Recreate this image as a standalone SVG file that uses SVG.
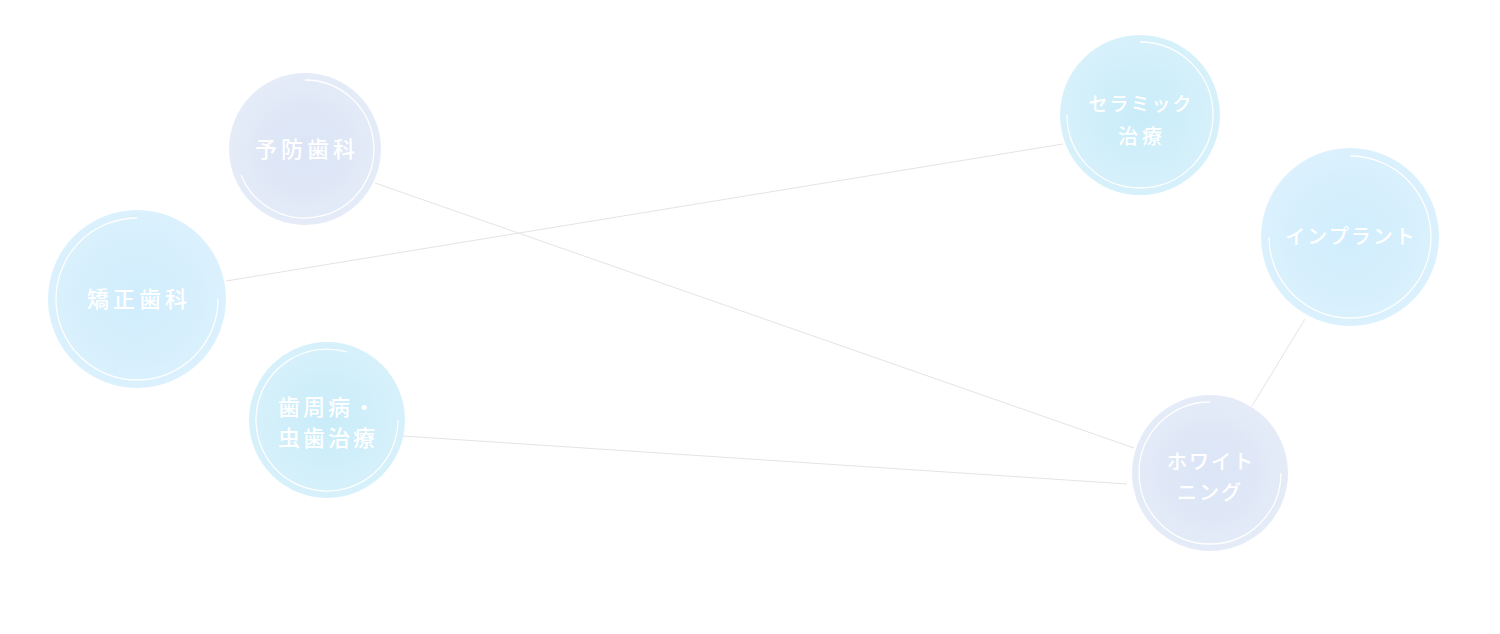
<svg xmlns="http://www.w3.org/2000/svg" width="1500" height="634" viewBox="0 0 1500 634">
<defs>
<radialGradient id="gLav" cx="50%" cy="50%" r="50%">
<stop offset="0%" stop-color="#dbe5f6"/>
<stop offset="60%" stop-color="#e0e8f7"/>
<stop offset="100%" stop-color="#e5ecf8"/>
</radialGradient>
<radialGradient id="gCyan" cx="50%" cy="50%" r="50%">
<stop offset="0%" stop-color="#c9ecf9"/>
<stop offset="60%" stop-color="#d1effa"/>
<stop offset="100%" stop-color="#d7f1fb"/>
</radialGradient>
<radialGradient id="gSky" cx="50%" cy="50%" r="50%">
<stop offset="0%" stop-color="#d1edfd"/>
<stop offset="60%" stop-color="#d6effd"/>
<stop offset="100%" stop-color="#dbf1fd"/>
</radialGradient>
<style>
.link{stroke:#e4e4e4;stroke-width:1;fill:none}
.ring{fill:none;stroke:#ffffff;stroke-width:1.3;stroke-opacity:0.95}
.lbl{font-family:"Noto Sans CJK JP","Noto Sans",sans-serif;fill:#ffffff;font-weight:500;text-anchor:middle;dominant-baseline:central}
</style>
</defs>
<rect width="1500" height="634" fill="#ffffff"/>
<g id="connectors">
<line class="link" x1="375" y1="183" x2="1134" y2="448"/>
<line class="link" x1="226" y1="281" x2="1063" y2="144"/>
<line class="link" x1="403" y1="436" x2="1127" y2="484"/>
<line class="link" x1="1305" y1="319" x2="1252" y2="406"/>
</g>
<g id="node-yobou">
<circle cx="305" cy="149" r="76" fill="url(#gLav)"/>
<path class="ring" d="M305,80 A69,69 0 1 1 241,175"/>
<text class="lbl" x="307" y="147" font-size="22" letter-spacing="4">予防歯科</text>
</g>
<g id="node-ceramic">
<circle cx="1140" cy="115" r="80" fill="url(#gCyan)"/>
<path class="ring" d="M1140,42 A73,73 0 1 1 1067,115"/>
<text class="lbl" x="1141" y="102" font-size="19" letter-spacing="2">セラミック</text>
<text class="lbl" x="1142" y="135" font-size="20" letter-spacing="4">治療</text>
</g>
<g id="node-kyousei">
<circle cx="137" cy="299" r="89" fill="url(#gSky)"/>
<path class="ring" d="M137,218 A81,81 0 1 0 218,299"/>
<text class="lbl" x="139" y="297" font-size="22" letter-spacing="4">矯正歯科</text>
</g>
<g id="node-shishu">
<circle cx="327" cy="420" r="78" fill="url(#gCyan)"/>
<path class="ring" d="M346.6,351.8 A71,71 0 1 0 398,420"/>
<text class="lbl" x="328" y="405" font-size="22" letter-spacing="3">歯周病・</text>
<text class="lbl" x="328" y="436" font-size="22" letter-spacing="3">虫歯治療</text>
</g>
<g id="node-implant">
<circle cx="1350" cy="237" r="89" fill="url(#gSky)"/>
<path class="ring" d="M1350,156 A81,81 0 1 1 1269,237"/>
<text class="lbl" x="1351" y="235" font-size="20" letter-spacing="2">インプラント</text>
</g>
<g id="node-whitening">
<circle cx="1210" cy="473" r="78" fill="url(#gLav)"/>
<path class="ring" d="M1210,402 A71,71 0 1 0 1281,473"/>
<text class="lbl" x="1211" y="460" font-size="20" letter-spacing="2">ホワイト</text>
<text class="lbl" x="1210" y="491" font-size="20" letter-spacing="2">ニング</text>
</g>
</svg>
